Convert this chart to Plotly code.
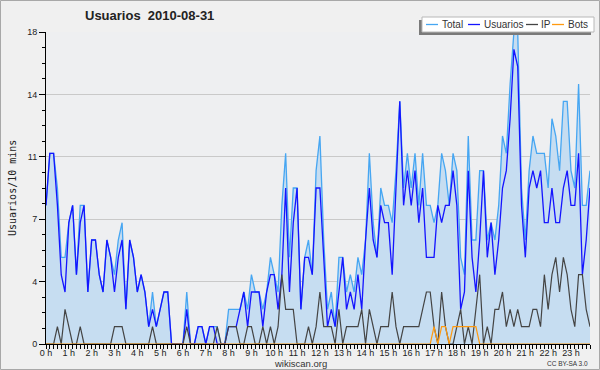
import plotly.graph_objects as go

# ---- data (10-minute slots, 0 h .. 23 h 50) ----
slots = list(range(144))
total = [8,11,11,9,5,5,7,8,4,8, 8,3,6,6,4,3,6,5,4,6, 7,2,6,5,3,4,3,1,3,1,
         2,3,3,0,0,0,0,3,0,0, 1,1,0,1,1,1,0,0,2,2, 2,2,3,2,4,3,3,2,3,5,
         4,3,8,11,5,9,9,2,5,6, 4,10,12,6,2,3,1,5,5,3, 4,3,5,4,6,11,7,5,9,8,
         8,7,10,14,9,11,9,11,8,11, 8,8,7,8,11,10,8,11,10,5, 4,12,6,6,10,10,6,7,6,8,
         12,11,15,18,18,9,6,10,12,11, 11,11,9,13,12,10,14,14,10,9, 15,8,8,10]
usuarios = [8,11,11,8,4,3,7,8,4,7, 8,3,6,6,4,3,6,5,3,5, 6,2,6,5,3,4,3,1,2,1,
            2,3,3,0,0,0,0,2,0,0, 1,1,0,1,1,0,0,0,1,1, 1,2,3,1,3,3,3,1,3,4,
            4,2,4,9,3,7,9,2,5,5, 4,9,9,5,1,2,1,3,5,2, 3,2,4,2,6,9,6,5,8,7,
            7,4,9,14,8,10,8,10,7,9, 5,5,5,8,7,8,8,10,8,2, 3,10,5,3,6,10,5,7,4,6,
            9,10,13,17,16,8,5,9,10,9, 10,7,7,9,7,7,9,10,8,8, 11,4,6,9]
ip = [0,0,0,1,0,2,1,0,0,1, 0,0,0,0,0,0,0,0,1,1, 1,0,0,0,0,0,0,0,1,0,
      0,0,0,0,0,0,0,1,0,0, 0,0,0,0,0,1,0,0,1,1, 1,0,0,1,1,0,0,1,0,1,
      0,1,4,2,2,2,0,0,0,1, 0,1,3,1,1,1,0,2,0,1, 1,1,1,2,0,2,1,0,1,1,
      1,3,1,0,1,1,1,1,1,2, 3,3,1,0,3,1,0,0,1,2, 0,1,0,2,4,0,1,0,2,2,
      3,1,2,1,2,1,1,1,2,2, 1,4,2,4,5,3,5,4,2,1, 4,4,2,1]
bots = [0]*102 + [1,0,1,1,0,1,1,1,1,1,1,1] + [0]*30

hour_ticks = [0,6,12,18,24,30,36,42,48,54,60,66,72,78,84,90,96,102,108,114,120,126,132,138]
hour_labels = ["0 h","1 h","2 h","3 h","4 h","5 h","6 h","7 h","8 h","9 h","10 h","11 h",
               "12 h","13 h","14 h","15 h","16 h","17 h","18 h","19 h","20 h","21 h","22 h","23 h"]
y_ticks = [0, 3.6, 7.2, 10.8, 14.4, 18]
y_labels = ["0", "4", "7", "11", "14", "18"]

# ---- geometry helpers (pixel -> paper) ----
W, H = 600, 370
L, R, T, B = 46, 10, 32, 26
PW, PH = W - L - R, H - T - B
def px(x): return (x - L) / PW
def py(y): return (H - B - y) / PH

FONT = "Liberation Sans, Arial, sans-serif"
C_TOTAL, C_FILL, C_USR, C_IP, C_BOT = "#46a6f2", "#c6ddf1", "#1414ff", "#444444", "#ff9a10"

fig = go.Figure()
fig.add_trace(go.Scatter(x=slots, y=total, mode="lines", line=dict(color=C_TOTAL, width=1.3),
                         fill="tozeroy", fillcolor=C_FILL, hoverinfo="skip", name="Total"))
fig.add_trace(go.Scatter(x=slots, y=usuarios, mode="lines", line=dict(color=C_USR, width=1.3),
                         hoverinfo="skip", name="Usuarios"))
fig.add_trace(go.Scatter(x=slots, y=ip, mode="lines", line=dict(color=C_IP, width=1.2),
                         hoverinfo="skip", name="IP"))
fig.add_trace(go.Scatter(x=slots, y=bots, mode="lines", line=dict(color=C_BOT, width=1.2),
                         hoverinfo="skip", name="Bots"))

shapes = [
    dict(type="rect", xref="paper", yref="paper", x0=px(0.5), x1=px(599.5), y0=py(369.5), y1=py(0.5),
         line=dict(color="#a8a8a8", width=1), fillcolor="rgba(0,0,0,0)", layer="below"),
    # legend shadow + box
    dict(type="rect", xref="paper", yref="paper", x0=px(419), x1=px(591), y0=py(35), y1=py(20),
         line=dict(width=0), fillcolor="#7a7a7a"),
    dict(type="rect", xref="paper", yref="paper", x0=px(422), x1=px(594), y0=py(32), y1=py(17),
         line=dict(color="#b8b8b8", width=1), fillcolor="#ffffff"),
]
legend_items = [("Total", C_TOTAL, 426, 441), ("Usuarios", C_USR, 468, 483),
                ("IP", C_IP, 526, 540), ("Bots", C_BOT, 552, 567)]
ann = []
for name, col, lx, tx in legend_items:
    shapes.append(dict(type="line", xref="paper", yref="paper", x0=px(lx), x1=px(lx + 12),
                       y0=py(24.5), y1=py(24.5), line=dict(color=col, width=1.3)))
    ann.append(dict(text=name, x=px(tx), y=py(24.5), xref="paper", yref="paper", xanchor="left",
                    yanchor="middle", showarrow=False, borderpad=0,
                    font=dict(family=FONT, size=10, color="#333")))

ann += [
    dict(text="<b>Usuarios  2010-08-31</b>", x=px(84), y=py(16), xref="paper", yref="paper",
         xanchor="left", yanchor="middle", showarrow=False, borderpad=0,
         font=dict(family=FONT, size=13, color="#222")),
    dict(text="Usuarios/10 mins", x=px(12), y=py(188), xref="paper", yref="paper", textangle=-90,
         xanchor="center", yanchor="middle", showarrow=False,
         font=dict(family="DejaVu Sans Mono, monospace", size=10, color="#222")),
    dict(text="wikiscan.org", x=px(300), y=py(363), xref="paper", yref="paper", xanchor="center",
         yanchor="middle", showarrow=False, borderpad=0, font=dict(family=FONT, size=9.5, color="#333")),
    dict(text="CC BY-SA 3.0", x=px(589), y=py(363), xref="paper", yref="paper", xanchor="right",
         yanchor="middle", showarrow=False, borderpad=0, font=dict(family=FONT, size=6.5, color="#333")),
]

fig.update_layout(
    width=W, height=H, autosize=False,
    margin=dict(l=L, r=R, t=T, b=B, pad=0),
    paper_bgcolor="#f0f0f0", plot_bgcolor="#eeeff1",
    showlegend=False, shapes=shapes, annotations=ann,
    font=dict(family=FONT, size=9, color="#222"),
    xaxis=dict(range=[0, 143], tickmode="array", tickvals=hour_ticks, ticktext=hour_labels,
               ticks="outside", ticklen=4, tickcolor="#000", tickwidth=1, ticklabelstandoff=-4,
               showline=True, linecolor="#000", linewidth=1, showgrid=False, zeroline=False,
               tickfont=dict(family=FONT, size=9, color="#222"),
               minor=dict(dtick=1, tick0=0, ticks="outside", ticklen=4, tickcolor="#000", tickwidth=1,
                          showgrid=False)),
    yaxis=dict(range=[0, 18], tickmode="array", tickvals=y_ticks, ticktext=y_labels,
               ticks="outside", ticklen=6, tickcolor="#000", tickwidth=1,
               showline=True, linecolor="#000", linewidth=1, showgrid=True, gridcolor="#c9c9c9",
               gridwidth=1, zeroline=False, tickfont=dict(family=FONT, size=9, color="#222"),
               minor=dict(dtick=0.9, tick0=0, ticks="outside", ticklen=3, tickcolor="#000", tickwidth=1,
                          showgrid=False)),
)

fig.write_html("out.html", config={"displayModeBar": False},
               post_script="document.body.style.margin='0';document.body.style.overflow='hidden';")
